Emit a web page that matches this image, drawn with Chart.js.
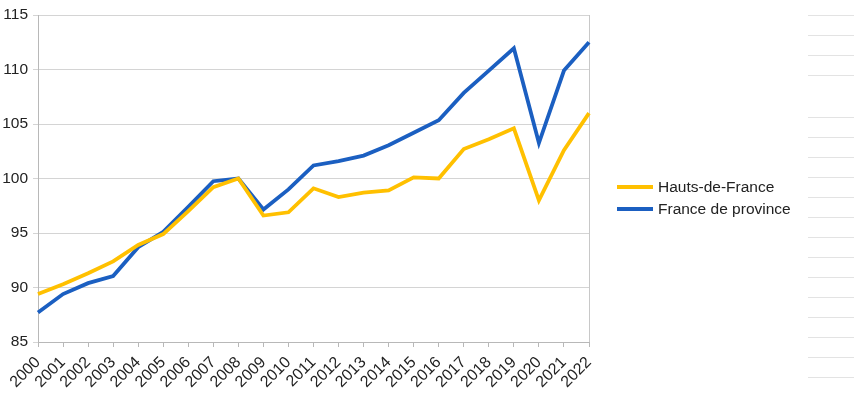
<!DOCTYPE html>
<html><head><meta charset="utf-8">
<script src="https://cdn.jsdelivr.net/npm/chart.js@4"></script>
<style>
html,body{margin:0;padding:0;background:#fff;}
#wrap{position:relative;width:854px;height:397px;}
#legend{position:absolute;left:617px;top:176px;font-family:"Liberation Sans",Arial,sans-serif;font-size:15.5px;color:#222;}
.li{display:flex;align-items:center;height:22px;}
.sw{width:36px;height:3.5px;margin-right:5px;}
#cells{position:absolute;left:808px;top:0;width:46px;height:397px;}
.cl{position:absolute;left:0;width:46px;height:1px;background:#e3e3e3;}
</style></head>
<body>
<div id="wrap">
<canvas id="c" width="854" height="397"></canvas>
<div id="legend"></div>
<div id="cells"></div>
</div>
<script>
const years = ["2000","2001","2002","2003","2004","2005","2006","2007","2008","2009","2010","2011","2012","2013","2014","2015","2016","2017","2018","2019","2020","2021","2022"];
const hautsDeFrance = [89.4,90.3,91.3,92.4,93.9,94.9,97.0,99.2,100.0,96.6,96.9,99.1,98.3,98.7,98.9,100.1,100.0,102.7,103.6,104.6,98.0,102.6,106.0];
const franceProvince = [87.7,89.4,90.4,91.05,93.7,95.1,97.4,99.75,100.0,97.15,99.0,101.2,101.6,102.1,103.05,104.2,105.35,107.85,109.9,111.95,103.25,109.9,112.5];
const seriesNames = ["Hauts-de-France","France de province"];
const seriesColors = ["#FFC000","#1B5FC1"];
const yTicks = [85,90,95,100,105,110,115];
const cellLines = [15,35,55,75,117,137,157,177,197,217,237,257,277,297,317,337,357,377];

const cells = document.getElementById('cells');
cellLines.forEach(y=>{const d=document.createElement('div');d.className='cl';d.style.top=y+'px';cells.appendChild(d);});
const leg = document.getElementById('legend');
seriesNames.forEach((n,i)=>{leg.innerHTML += '<div class="li"><div class="sw" style="background:'+seriesColors[i]+'"></div><span>'+n+'</span></div>';});

const borderPlugin = {id:'rb',beforeDatasetsDraw(ch){const a=ch.chartArea,c=ch.ctx;c.save();c.strokeStyle='#c8c8c8';c.lineWidth=1;c.beginPath();c.moveTo(Math.round(a.right)+0.5,a.top);c.lineTo(Math.round(a.right)+0.5,a.bottom);c.stroke();c.restore();}};

new Chart(document.getElementById('c'),{
 type:'line',
 data:{labels:years,datasets:[
  {label:seriesNames[0],data:hautsDeFrance,borderColor:seriesColors[0],backgroundColor:seriesColors[0],borderWidth:3.8,pointRadius:0,tension:0},
  {label:seriesNames[1],data:franceProvince,borderColor:seriesColors[1],backgroundColor:seriesColors[1],borderWidth:3.8,pointRadius:0,tension:0}
 ]},
 options:{
  responsive:false,animation:false,
  layout:{padding:{top:15,right:265,left:0,bottom:0}},
  plugins:{legend:{display:false},tooltip:{enabled:false}},
  scales:{
   x:{offset:false,
      grid:{display:true,drawOnChartArea:false,drawTicks:true,tickLength:5,color:'#b8b8b8'},
      border:{color:'#b8b8b8'},
      ticks:{minRotation:45,maxRotation:45,autoSkip:false,padding:6,color:'#222',font:{family:'"Liberation Sans", Arial',size:16}},
      afterFit(s){s.height=55;}
   },
   y:{min:85,max:115,
      afterBuildTicks(s){s.ticks=yTicks.map(v=>({value:v}));},
      grid:{color:'#d4d4d4',tickLength:5,drawTicks:true},
      border:{color:'#b8b8b8'},
      ticks:{padding:5,color:'#222',font:{family:'"Liberation Sans", Arial',size:15.5}},
      afterFit(s){s.width=38;}
   }
  }
 },
 plugins:[borderPlugin]
});
</script>
</body></html>
